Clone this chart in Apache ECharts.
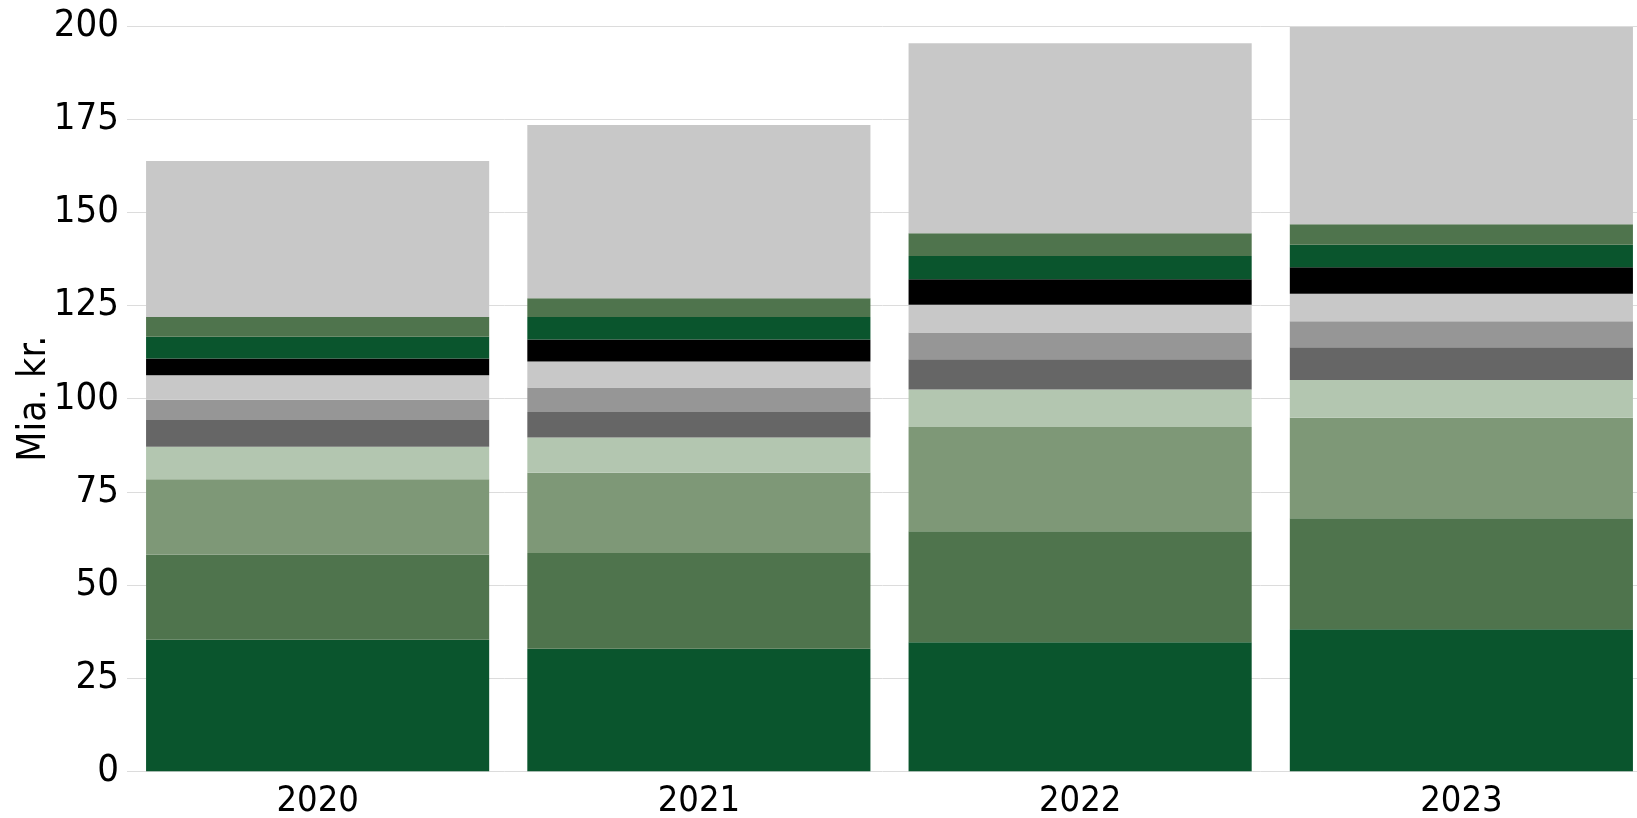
<!DOCTYPE html>
<html>
<head>
<meta charset="utf-8">
<script src="https://cdn.jsdelivr.net/npm/echarts@6/dist/echarts.min.js"></script>
<style>
html,body{margin:0;padding:0;background:#fff;}
#chart{width:1637px;height:818px;}
</style>
</head>
<body>
<div id="chart"></div>
<script>
const categories = ['2020', '2021', '2022', '2023'];
const yTicks = [0, 25, 50, 75, 100, 125, 150, 175, 200];
const yTitle = 'Mia. kr.';

// Segments from bottom to top
const s1 = [35.3, 32.9, 34.6, 38.1];
const s2 = [22.8, 25.7, 29.8, 29.8];
const s3 = [20.3, 21.5, 28.0, 27.0];
const s4 = [8.7, 9.5, 10.1, 10.1];
const s5 = [7.2, 6.8, 8.1, 8.8];
const s6 = [5.4, 6.6, 7.2, 7.0];
const s7 = [6.6, 7.0, 7.4, 7.4];
const s8 = [4.5, 5.9, 6.9, 7.1];
const s9 = [5.8, 6.0, 6.2, 6.0];
const s10 = [5.3, 5.1, 6.1, 5.5];
const s11 = [41.9, 46.5, 51.0, 53.0];

const seriesData = [s1, s2, s3, s4, s5, s6, s7, s8, s9, s10, s11];
const colors = ['#0a552d', '#4f744d', '#7e9877', '#b3c6b0', '#666666', '#969696', '#c8c8c8', '#000000', '#0a552d', '#4f744d', '#c8c8c8'];

const FONT = "'DejaVu Sans Condensed', 'DejaVu Sans', sans-serif";

const chart = echarts.init(document.getElementById('chart'), null, {renderer: 'canvas'});
chart.setOption({
  animation: false,
  backgroundColor: '#ffffff',
  grid: {left: 127, top: 26.2, width: 1525, height: 745, containLabel: false, outerBoundsMode: 'none'},
  xAxis: {
    type: 'category',
    data: categories,
    axisLine: {show: false},
    axisTick: {show: false},
    axisLabel: {fontFamily: FONT, fontSize: 36, color: '#000', margin: 12}
  },
  yAxis: {
    type: 'value',
    min: yTicks[0],
    max: yTicks[yTicks.length - 1],
    interval: 25,
    name: yTitle,
    nameLocation: 'middle',
    nameGap: 73,
    nameMoveOverlap: false,
    nameRotate: 90,
    nameTextStyle: {fontFamily: FONT, fontSize: 39, color: '#000'},
    axisLine: {show: false},
    axisTick: {show: false},
    axisLabel: {fontFamily: FONT, fontSize: 38, color: '#000', margin: 8},
    splitLine: {show: true, lineStyle: {color: '#dcdcdc', width: 1}}
  },
  series: seriesData.map((d, i) => ({
    type: 'bar',
    stack: 'total',
    data: d,
    barCategoryGap: '10%',
    itemStyle: {color: colors[i]}
  }))
});
</script>
</body>
</html>
